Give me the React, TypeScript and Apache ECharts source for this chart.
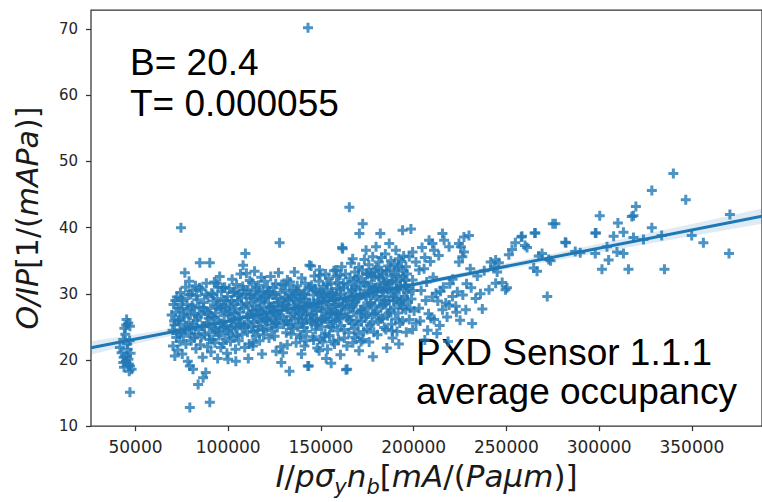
import React, { useEffect, useRef } from "react";
import * as echarts from "echarts";

// Fit coefficients shown on the chart
const B = 20.4;
const T = 0.000055;

// Axis ticks
const xTicks = [50000, 100000, 150000, 200000, 250000, 300000, 350000];
const yTicks = [10, 20, 30, 40, 50, 60, 70];
const xRange = [26000, 387800];
const yRange = [10, 72.9];

// Confidence band half-widths along x
const bandX = [26000, 60000, 100000, 150000, 200000, 250000, 300000, 350000, 387800];
const bandHalf = [1.0, 0.6, 0.35, 0.25, 0.3, 0.45, 0.65, 0.9, 1.15];

// Data points [I/pσn, O/IP]
const leftCluster = [
  [45200, 26.1], [47000, 25.1], [46100, 25.6], [43400, 23.1], [41600, 21.9], [42500, 21.1],
  [45200, 20.6], [43400, 19.6], [47000, 19.1], [47900, 18.6], [46600, 18.3], [47000, 15.1],
  [44000, 24.8], [45500, 22.4], [46200, 20.1], [44800, 19.8], [47300, 21.0], [43800, 18.9],
  [44500, 23.9], [46800, 22.9], [45800, 21.6], [43600, 20.4], [46400, 19.4], [45000, 25.3],
];

const cloud70to100 = [
  [69500, 26.8], [70000, 24.5], [70200, 22.1], [70500, 28.4], [71000, 25.3], [71200, 20.6], [71800, 27.2],
  [72000, 23.4], [72300, 29.5], [72800, 21.5], [73000, 25.9], [73500, 26.1], [73900, 22.8], [74200, 30.2],
  [74500, 24.2], [74800, 27.8], [75200, 20.9], [75500, 28.9], [75800, 23.6], [76300, 26.5], [76600, 33.2],
  [77000, 31.0], [77200, 22.4], [77500, 25.0], [78000, 27.5], [78200, 19.8], [78500, 29.8], [78900, 31.9],
  [79100, 24.0], [79300, 19.1], [79600, 26.8], [80000, 22.9], [74500, 40.0],
  [80500, 28.2], [80800, 30.5], [81000, 18.6], [81300, 25.4], [81700, 23.3], [82000, 27.0], [82300, 31.2],
  [82600, 21.7], [83000, 26.0], [83300, 29.1], [83760, 16.3], [84000, 24.6], [84300, 28.0], [84675, 34.7],
  [85000, 22.3], [85300, 26.9], [85600, 30.6], [85900, 25.1], [86200, 20.4], [86450, 17.3], [86800, 28.7],
  [87100, 23.8], [87500, 27.4], [87900, 18.1], [88200, 31.6], [88500, 25.6], [88800, 22.0], [89100, 29.6],
  [89400, 26.3], [89700, 24.1], [90050, 34.7],
  [90400, 27.8], [90700, 21.2], [91000, 30.1], [91300, 25.0], [91600, 23.1], [91900, 28.9], [92200, 26.4],
  [92500, 31.8], [92800, 22.6], [93100, 27.1], [93400, 24.4], [93700, 31.6], [94000, 29.3], [94300, 20.2],
  [94600, 26.0], [94900, 23.7], [95200, 28.4], [95400, 32.6], [95700, 25.5], [96000, 21.9], [96300, 30.3],
  [96600, 27.6], [96900, 24.9], [97200, 22.5], [97500, 29.0], [97800, 26.7], [98100, 31.0], [98400, 23.2],
  [98700, 27.9], [99000, 25.2], [99300, 21.0], [99600, 29.6], [99900, 20.1], [100000, 26.9],
];

const cloud100to130 = [
  [100300, 24.0], [100600, 30.8], [100900, 27.3], [101200, 22.8], [101500, 25.8], [101800, 29.0], [102100, 32.2],
  [102400, 26.1], [102700, 23.5], [103000, 28.5], [103300, 30.4], [103600, 25.0], [103900, 21.6], [104200, 27.7],
  [104500, 31.4], [104800, 24.7], [105100, 28.9], [105400, 26.4], [105700, 22.9], [106000, 30.0], [106300, 27.2],
  [106600, 33.0], [106900, 25.6], [107200, 29.4], [107500, 23.9], [107800, 31.1], [108000, 34.3], [108300, 27.8],
  [108600, 25.3], [108900, 21.9], [109250, 36.1], [109500, 29.9], [109800, 33.1], [110100, 26.6],
  [110400, 24.2], [110700, 30.6], [111000, 28.1], [111300, 22.4], [111600, 32.0], [111900, 26.9], [112200, 29.4],
  [112500, 25.0], [112800, 31.7], [113100, 27.4], [113300, 22.6], [113600, 29.2], [113900, 25.8], [114200, 33.4],
  [114500, 28.3], [114800, 23.6], [115100, 30.9], [115400, 26.2], [115700, 29.7], [116000, 24.5], [116300, 31.3],
  [116600, 27.6], [116900, 22.9], [117200, 28.8], [117500, 25.7], [117800, 32.5], [118100, 29.1], [118400, 26.4],
  [118700, 30.4], [119000, 23.8], [119300, 28.0], [119600, 31.9], [119900, 26.0],
  [120200, 29.5], [120500, 24.8], [120800, 27.3], [121100, 31.0], [121400, 25.9], [121700, 28.6], [122000, 23.3],
  [122300, 30.1], [122600, 26.7], [122900, 32.6], [123200, 27.9], [123500, 24.4], [123800, 29.8], [124100, 26.1],
  [124400, 30.9], [124700, 28.2], [125000, 23.6], [125300, 25.6], [125600, 31.5], [125900, 27.0], [126200, 29.3],
  [126500, 24.9], [126800, 28.7], [127100, 33.2], [127400, 26.4], [127700, 37.7], [128000, 30.2], [128300, 22.0],
  [128600, 19.6], [128900, 27.5], [129200, 29.0], [129500, 21.1], [129800, 25.4],
];

const cloud130to160 = [
  [130100, 31.3], [130400, 28.4], [130700, 26.0], [131000, 30.5], [131300, 24.1], [131600, 27.7], [131900, 32.1],
  [132200, 29.2], [132500, 25.3], [132800, 28.9], [133000, 18.3], [133300, 31.8], [133600, 26.6], [133900, 23.9],
  [134200, 29.6], [134500, 27.1], [134800, 30.8], [135100, 24.7], [135400, 28.3], [135700, 33.3], [136000, 26.2],
  [136300, 29.9], [136600, 22.6], [136900, 27.6], [137200, 31.2], [137500, 25.0], [137800, 28.6], [138100, 30.3],
  [138400, 26.9], [138700, 23.4], [139000, 23.8], [139300, 29.4], [139600, 32.4], [139900, 27.3],
  [140200, 25.5], [140500, 30.0], [140800, 28.1], [141100, 22.1], [141400, 31.6], [141700, 26.8], [142000, 29.2],
  [142300, 24.3], [142600, 27.8], [142900, 19.1], [143200, 30.7], [143800, 34.3], [144100, 28.5], [144400, 25.9],
  [144700, 34.2], [145000, 31.3], [145300, 27.0], [145600, 23.5], [145900, 29.8], [146200, 26.3], [146500, 32.7],
  [146800, 28.0], [147100, 24.6], [147400, 30.4], [147700, 27.4], [148000, 21.8], [148300, 29.1], [148600, 25.7],
  [148900, 31.9], [149200, 33.6], [149300, 23.1], [149500, 32.8], [149800, 27.9],
  [150100, 30.2], [150400, 25.0], [150700, 28.8], [151000, 22.7], [151300, 31.1], [151600, 26.5], [151900, 29.5],
  [152200, 24.0], [152500, 33.0], [152800, 20.2], [153100, 27.7], [153400, 30.6], [153700, 25.8], [154000, 28.4],
  [154300, 32.3], [154600, 23.7], [154900, 29.7], [155200, 26.9], [155500, 31.5], [155800, 27.3], [156100, 24.9],
  [156400, 30.0], [156700, 28.1], [157000, 33.5], [157300, 22.4], [157600, 29.3], [157900, 26.0], [158200, 33.6],
  [158300, 32.6], [158500, 30.8], [158800, 27.0], [159100, 24.4], [159400, 31.7], [159700, 28.6],
];

const cloud160to200 = [
  [160000, 26.2], [160300, 32.8], [160600, 29.9], [160900, 25.2], [161200, 34.1], [161400, 37.0], [161700, 36.8],
  [162000, 28.3], [162300, 30.9], [162600, 23.3], [162900, 27.6], [163200, 33.0], [163500, 18.5], [163800, 29.0],
  [164100, 18.6], [164400, 31.4], [164700, 26.6], [165000, 24.1], [165300, 43.1], [165600, 30.1], [165900, 27.9],
  [166200, 34.6], [166500, 25.5], [166800, 29.6], [167100, 35.3], [167200, 22.6], [167400, 31.9], [167700, 27.2],
  [168000, 24.7], [168300, 33.3], [168600, 28.8], [168900, 30.7], [169200, 26.0], [169500, 32.2], [169800, 23.9],
  [170100, 29.3], [170400, 34.0], [170700, 39.1], [171000, 27.0], [171300, 31.2], [171600, 22.8], [171900, 25.8],
  [172200, 33.6], [172500, 40.6], [172600, 23.1], [172800, 30.0], [173100, 28.1], [173400, 35.2], [173700, 26.4],
  [174000, 31.8], [174300, 36.6], [174600, 29.5], [174900, 24.6], [175200, 32.9], [175500, 27.8], [175800, 34.4],
  [176100, 30.5], [176400, 25.3], [176700, 33.2], [177000, 28.7], [177300, 31.4], [177600, 26.9], [177900, 35.6],
  [178200, 29.8], [178500, 24.2], [178800, 32.5], [179100, 28.2], [179400, 30.9], [179700, 37.1],
  [180000, 33.9], [180300, 27.3], [180600, 31.0], [180900, 25.9], [181200, 34.8], [181500, 29.1], [181800, 32.4],
  [182000, 39.1], [182300, 28.0], [182600, 35.5], [182900, 30.3], [183200, 26.3], [183500, 33.0], [183800, 29.6],
  [184100, 24.9], [184400, 31.7], [184700, 36.0], [185000, 28.5], [185300, 33.4], [185600, 30.7], [185900, 26.7],
  [186200, 34.2], [186500, 29.0], [186800, 37.6], [187100, 31.5], [187400, 27.5], [187700, 35.0], [188000, 30.1],
  [188300, 24.4], [188600, 23.3], [188900, 32.7], [189200, 28.9], [189500, 34.5], [189800, 30.4],
  [190100, 26.2], [190400, 36.6], [190700, 31.8], [191000, 29.3], [191300, 33.8], [191600, 27.1], [191900, 35.3],
  [192200, 30.6], [192500, 25.6], [192800, 32.2], [193100, 28.4], [193400, 34.9], [194000, 39.6], [194000, 32.6],
  [194300, 27.8], [194600, 35.7], [194900, 29.6], [195200, 31.3], [195800, 34.1], [195800, 31.1], [195800, 27.6],
  [196400, 33.0], [196700, 28.8], [197300, 30.8], [197600, 35.6], [197600, 26.1], [198500, 39.8], [198800, 29.2],
  [199400, 36.3], [199400, 32.1], [199400, 24.6], [199700, 30.5],
];

// Extra points in the densest part of the cloud
const cloudCore = [
  [70800, 25.9], [71500, 29.0], [72600, 24.0], [73200, 27.9], [74000, 25.4], [75000, 29.3], [75900, 26.9],
  [76800, 24.6], [77800, 28.4], [78700, 25.7], [79800, 29.9], [80200, 24.8], [81100, 27.9], [82100, 23.9],
  [82900, 29.7], [83600, 26.5], [84500, 30.9], [85500, 23.5], [86500, 27.9], [87300, 25.1], [88000, 29.9],
  [88900, 27.1], [89900, 23.1], [90900, 26.6], [91800, 29.9], [92700, 24.7], [93500, 28.1], [94400, 31.0],
  [95100, 24.1], [96100, 27.9], [97000, 30.9], [97900, 25.0], [98900, 28.9], [99800, 24.4], [100800, 28.1],
  [101700, 24.9], [102600, 30.2], [103500, 27.0], [104400, 23.7], [105300, 29.7], [106200, 25.4], [107100, 28.4],
  [108100, 30.6], [109000, 24.9], [109900, 28.6], [110900, 25.6], [111800, 29.9], [112700, 27.0], [113500, 24.3],
  [114400, 30.4], [115300, 27.6], [116200, 25.1], [117100, 30.1], [118000, 27.3], [118900, 24.6], [119800, 29.4],
  [120700, 26.3], [121600, 30.4], [122500, 28.0], [123400, 25.3], [124300, 27.5], [125200, 29.9], [126100, 25.6],
  [127000, 28.0], [127900, 26.8], [128800, 31.4], [129700, 28.2], [130600, 29.4], [131500, 25.9], [132400, 27.8],
  [133300, 30.0], [134200, 25.4], [135100, 29.2], [136000, 27.8], [136900, 30.5], [137800, 26.3], [138700, 29.0],
  [139600, 25.9], [140500, 27.6], [141400, 29.9], [142300, 26.2], [143200, 28.6], [144100, 31.0], [145000, 25.6],
  [145900, 28.4], [146800, 30.7], [147700, 26.0], [148600, 28.8], [149500, 30.1], [150400, 27.4], [151300, 29.9],
  [152200, 26.2], [153100, 31.4], [154000, 29.3], [154900, 27.0], [155800, 30.2], [156700, 25.8], [157600, 28.4],
  [158500, 29.6], [159400, 26.9], [160300, 30.6], [161200, 28.0], [162100, 31.6], [163000, 29.4], [163900, 26.4],
  [164800, 28.9], [165700, 32.4], [166600, 30.5], [167500, 28.4], [168400, 31.0], [169300, 29.2], [170200, 32.6],
  [171100, 29.9], [172000, 27.6], [172900, 31.7], [173800, 29.7], [174700, 33.1], [175600, 31.0], [176500, 28.5],
  [177400, 32.7], [178300, 30.6], [179200, 33.6], [180100, 29.6], [181000, 32.6], [181900, 30.8], [182800, 33.5],
  [183700, 31.4], [184600, 29.0], [185500, 32.0], [186400, 30.9], [187300, 33.6], [188200, 31.9], [189100, 29.5],
  [190000, 32.9], [190900, 30.8], [191800, 34.1], [192700, 31.2], [193600, 29.1], [194500, 33.4], [195400, 32.0],
  [196300, 30.2],
];

// Lower half of the cloud, below the fit line
const cloudLower = [
  [140800, 24.9], [142000, 22.9], [144500, 26.8], [146000, 23.0], [147500, 25.3], [149000, 21.4], [150500, 26.1],
  [152000, 23.5], [153500, 21.6], [155000, 25.0], [156500, 22.8], [158000, 27.2], [159500, 23.0], [161000, 26.9],
  [162500, 24.6], [164000, 22.1], [165500, 26.0], [167000, 28.0], [168500, 23.4], [170000, 25.3], [171500, 27.4],
  [173000, 24.3], [174500, 26.7], [176000, 22.7], [177500, 25.6], [179000, 27.0], [180500, 23.8], [182000, 26.2],
  [183500, 28.3], [185000, 24.6], [186500, 27.1], [188000, 25.4], [189500, 27.9], [191000, 24.3], [192500, 28.7],
  [194000, 25.9], [196000, 24.2], [198000, 27.8], [203500, 25.9], [207500, 24.5], [210000, 29.5], [214500, 30.4],
  [219500, 31.5], [223000, 27.2], [226500, 29.8], [231000, 30.9], [237000, 27.7], [160500, 20.8], [170500, 21.4],
  [178000, 20.5], [185500, 21.8], [192000, 22.4], [155500, 19.5], [139500, 20.9], [131800, 22.3], [125800, 21.3],
  [118200, 20.9], [110800, 20.2], [104100, 19.8],
];

const tail200to290 = [
  [200200, 27.4], [201200, 34.8], [201200, 25.6], [202900, 33.6], [202900, 27.8], [204000, 30.5], [204500, 37.0],
  [205600, 33.8], [206000, 35.5], [206000, 23.0], [206500, 29.0], [207000, 31.8], [208000, 27.0], [208300, 38.1],
  [209000, 34.9], [209300, 26.3], [210100, 37.6], [210500, 32.5], [211000, 36.6], [211000, 26.1], [212000, 30.1],
  [212500, 24.0], [213000, 28.9], [213500, 35.8], [214000, 25.2], [215500, 39.1], [215500, 27.6], [216000, 31.0],
  [216400, 38.1], [217300, 28.6], [218000, 26.5], [218500, 22.8], [219100, 37.1], [219100, 28.3], [220900, 29.6],
  [221000, 32.2], [222700, 28.1], [223500, 30.3], [224400, 37.6], [224400, 34.8], [225000, 26.0], [225400, 37.1],
  [226200, 35.6], [227100, 38.6], [227100, 36.3], [228100, 27.6], [228500, 31.5], [229800, 38.8], [230500, 33.8],
  [231500, 25.5], [233400, 29.3], [234300, 32.7], [236000, 30.0], [238000, 33.5],
  [240600, 30.6], [241500, 34.8], [243300, 34.1], [244200, 35.1], [244200, 31.6], [245000, 33.3], [245900, 34.7],
  [247700, 31.7], [249500, 30.6], [250300, 30.9], [251300, 35.9], [253000, 36.7], [254800, 37.7], [258000, 38.6],
  [258400, 38.7], [260000, 37.3], [261100, 37.0], [264700, 33.9], [265200, 39.2], [265600, 39.2], [266500, 33.4],
  [267400, 35.7], [269200, 36.1], [272000, 29.6], [272800, 35.2], [273800, 35.0], [275000, 40.6], [276400, 40.6],
  [281700, 37.8], [282100, 37.7], [287100, 36.4], [289800, 36.2],
];

const tail290plus = [
  [297900, 39.2], [298300, 39.2], [297900, 36.1], [300300, 41.8], [301500, 33.7], [304200, 37.1], [305100, 35.1],
  [307800, 38.7], [309600, 36.3], [310100, 40.7], [313100, 39.3], [313100, 36.1], [315800, 33.7], [317600, 41.7],
  [318500, 41.8], [318500, 38.5], [319800, 43.2], [323900, 38.2], [328400, 45.6], [328400, 40.0], [333700, 38.8],
  [335200, 33.7], [340000, 48.2], [346700, 44.2], [349900, 38.8], [356200, 37.7], [370000, 36.1], [370500, 42.0],
];

const outliers = [
  [143000, 70.2], [79300, 12.8], [90050, 13.6], [113300, 22.1], [143400, 19.1],
];

const plusPath = "path://M3.5,0H6.5V3.5H10V6.5H6.5V10H3.5V6.5H0V3.5H3.5Z";
const BLUE = "#1f77b4";

export default function App() {
  const ref = useRef<HTMLDivElement>(null);

  useEffect(() => {
    if (!ref.current) return;
    const chart = echarts.init(ref.current, undefined, { renderer: "svg" });

    const points = [
      ...leftCluster, ...cloud70to100, ...cloud100to130, ...cloud130to160,
      ...cloud160to200, ...cloudCore, ...cloudLower, ...tail200to290, ...tail290plus, ...outliers,
    ];
    const lineData = xRange.map((x) => [x, B + T * x]);

    const tickFont = "DejaVu Sans";
    const mathFont = "DejaVu Sans";
    const annoFont = '37px "Liberation Sans", Arial, sans-serif';

    chart.setOption({
      animation: false,
      backgroundColor: "#ffffff",
      grid: {
        left: 91, top: 10, right: -2, bottom: 75,
        show: true, borderColor: "#333333", borderWidth: 1.25, backgroundColor: "transparent",
      },
      xAxis: {
        type: "value",
        min: xRange[0], max: xRange[1],
        splitLine: { show: false },
        axisLine: { show: false },
        axisTick: { show: true, length: 5, lineStyle: { color: "#333333", width: 1.25 }, customValues: xTicks },
        axisLabel: {
          customValues: xTicks, margin: 12, fontSize: 17, fontFamily: tickFont, color: "#262626",
          formatter: (v: number) => String(v),
        },
        name: "{i|I}{n|/}{i|pσ}{s|y}{i|n}{s|b}{n|[}{i|mA}{n|/(}{i|Paμm}{n|)]}",
        nameLocation: "middle",
        nameGap: 23,
        nameTextStyle: {
          fontSize: 31, fontFamily: mathFont, color: "#1a1a1a",
          rich: {
            i: { fontSize: 31, fontStyle: "italic", fontFamily: mathFont, color: "#1a1a1a", lineHeight: 35, verticalAlign: "top" },
            n: { fontSize: 31, fontFamily: mathFont, color: "#1a1a1a", lineHeight: 35, verticalAlign: "top" },
            s: { fontSize: 21, fontStyle: "italic", fontFamily: mathFont, color: "#1a1a1a", lineHeight: 24, padding: [16, 0, 0, 0], verticalAlign: "top" },
          },
        },
      },
      yAxis: {
        type: "value",
        min: yRange[0], max: yRange[1],
        splitLine: { show: false },
        axisLine: { show: false },
        axisTick: { show: true, length: 5, lineStyle: { color: "#333333", width: 1.25 }, customValues: yTicks },
        axisLabel: {
          customValues: yTicks, margin: 13, fontSize: 15, fontFamily: tickFont, color: "#262626",
        },
        name: "{i|O/IP}{n|[1/(}{i|mAPa}{n|)]}",
        nameLocation: "middle",
        nameRotate: 90,
        nameGap: 47,
        nameTextStyle: {
          fontSize: 30, fontFamily: mathFont, color: "#1a1a1a",
          rich: {
            i: { fontSize: 30, fontStyle: "italic", fontFamily: mathFont, color: "#1a1a1a", lineHeight: 34 },
            n: { fontSize: 30, fontFamily: mathFont, color: "#1a1a1a", lineHeight: 34 },
          },
        },
      },
      series: [
        {
          type: "scatter",
          data: points,
          symbol: plusPath,
          symbolSize: 10,
          itemStyle: { color: BLUE, opacity: 0.8 },
          silent: true,
          z: 2,
        },
        {
          type: "custom",
          data: [[bandX[0], B]],
          silent: true,
          z: 3,
          renderItem: (_params: any, api: any) => {
            const upper = bandX.map((x, i) => api.coord([x, B + T * x + bandHalf[i]]));
            const lower = bandX.map((x, i) => api.coord([x, B + T * x - bandHalf[i]])).reverse();
            return {
              type: "polygon",
              shape: { points: [...upper, ...lower] },
              style: { fill: BLUE, opacity: 0.15 },
            };
          },
        },
        {
          type: "line",
          data: lineData,
          showSymbol: false,
          symbol: "none",
          lineStyle: { color: BLUE, width: 3 },
          silent: true,
          z: 4,
        },
      ],
      graphic: [
        { type: "text", x: 130, y: 62.5, style: { text: "B= 20.4", font: annoFont, fill: "#000000", verticalAlign: "middle" } },
        { type: "text", x: 130, y: 103.7, style: { text: "T= 0.000055", font: annoFont, fill: "#000000", verticalAlign: "middle" } },
        { type: "text", x: 416, y: 352, style: { text: "PXD Sensor 1.1.1", font: annoFont, fill: "#000000", verticalAlign: "middle" } },
        { type: "text", x: 416, y: 391, style: { text: "average occupancy", font: annoFont, fill: "#000000", verticalAlign: "middle" } },
      ],
    });

    return () => chart.dispose();
  }, []);

  return (
    <div
      ref={ref}
      style={{ position: "fixed", left: 0, top: 0, width: 762, height: 502, background: "#ffffff" }}
    />
  );
}
